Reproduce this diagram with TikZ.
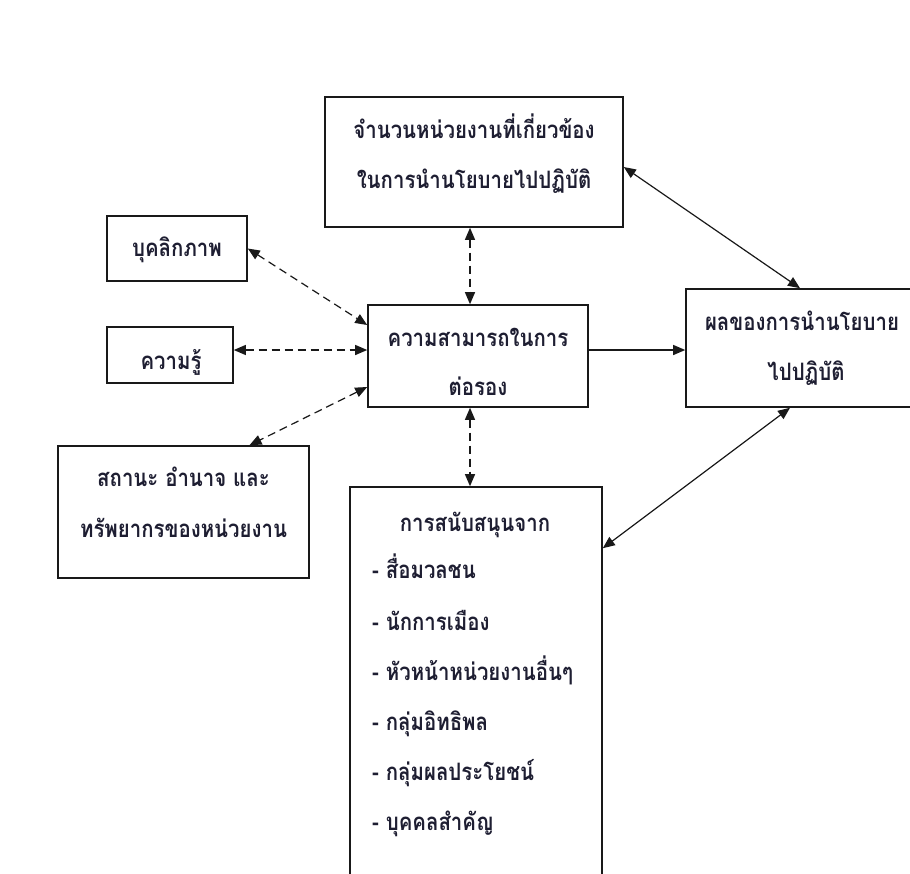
\documentclass[tikz,border=0pt]{standalone}
\usepackage{fontspec}
\newfontfamily\thaifont[Script=Thai, FakeStretch=0.85]{Loma}
\usetikzlibrary{arrows.meta}
\definecolor{txt}{RGB}{30,30,50}
\definecolor{edge}{RGB}{25,25,25}
\begin{document}
\begin{tikzpicture}[x=1pt,y=-1pt,
  box/.style={draw=edge, line width=1.6pt, fill=white, inner sep=0pt},
  lbl/.style={font=\thaifont\bfseries\fontsize{24}{28}\selectfont, text=txt, inner sep=0pt, anchor=base},
  lbll/.style={lbl, anchor=base west},
  conn/.style={line width=1.2pt, draw=edge, >={Triangle[length=12pt,width=10pt]}},
  dconn/.style={conn, dash pattern=on 8pt off 5pt}]
\useasboundingbox (0,0) rectangle (910,873);
\clip (0,0) rectangle (910,873);
\fill[white] (0,0) rectangle (910,873);

% boxes
\node[box, minimum width=298pt, minimum height=130pt] (top) at (474,162) {};
\node[box, minimum width=140pt, minimum height=65pt] (pers) at (177,248.5) {};
\node[box, minimum width=126pt, minimum height=56pt] (know) at (170,355) {};
\node[box, minimum width=220pt, minimum height=102pt] (ctr) at (478,356) {};
\node[box, minimum width=230pt, minimum height=118pt] (res) at (801,348) {};
\node[box, minimum width=251pt, minimum height=132pt] (stat) at (183.5,512) {};
\node[box, minimum width=252pt, minimum height=406pt] (sup) at (476,690) {};

% texts
\node[lbl] (t1) at (474,138) {จำนวนหน่วยงานที่เกี่ยวข้อง};
\node[lbl] (t2) at (474,188) {ในการนำนโยบายไปปฏิบัติ};
\node[lbl] (p1) at (177,256) {บุคลิกภาพ};
\node[lbl] (k1) at (171,369) {ความรู้};
\node[lbl] (c1) at (478,346) {ความสามารถในการ};
\node[lbl] (c2) at (478,395) {ต่อรอง};
\node[lbl] (r1) at (802,330) {ผลของการนำนโยบาย};
\node[lbl] (r2) at (806,380) {ไปปฏิบัติ};
\node[lbl] (s1) at (183.5,486) {สถานะ อำนาจ และ};
\node[lbl] (s2) at (183.5,537) {ทรัพยากรของหน่วยงาน};
\node[lbl] (u0) at (475,531) {การสนับสนุนจาก};
\node[lbll] (u1) at (372,578) {- สื่อมวลชน};
\node[lbll] (u2) at (372,630) {- นักการเมือง};
\node[lbll] (u3) at (372,680) {- หัวหน้าหน่วยงานอื่นๆ};
\node[lbll] (u4) at (372,730) {- กลุ่มอิทธิพล};
\node[lbll] (u5) at (372,780) {- กลุ่มผลประโยชน์};
\node[lbll] (u6) at (372,830) {- บุคคลสำคัญ};

% connectors
\draw[dconn, <->] (pers.east) -- ([yshift=31pt]ctr.west);
\draw[dconn, <->] ([yshift=5pt]know.east) -- ([yshift=6pt]ctr.west);
\draw[dconn, <->] ([yshift=-31pt]ctr.west) -- ([xshift=66pt]stat.north);
\draw[dconn, <->] ([xshift=-4pt]top.south) -- ([xshift=-8pt]ctr.north);
\draw[dconn, <->] ([xshift=-8pt]ctr.south) -- ([xshift=-6pt]sup.north);
\draw[conn, ->] ([yshift=6pt]ctr.east) -- ([yshift=-2pt]res.west);
\draw[conn, <->] ([yshift=-5pt]top.east) -- ([xshift=-1pt]res.north);
\draw[conn, <->] ([yshift=-62pt]sup.north east) -- ([xshift=-11pt]res.south);
\end{tikzpicture}
\end{document}
